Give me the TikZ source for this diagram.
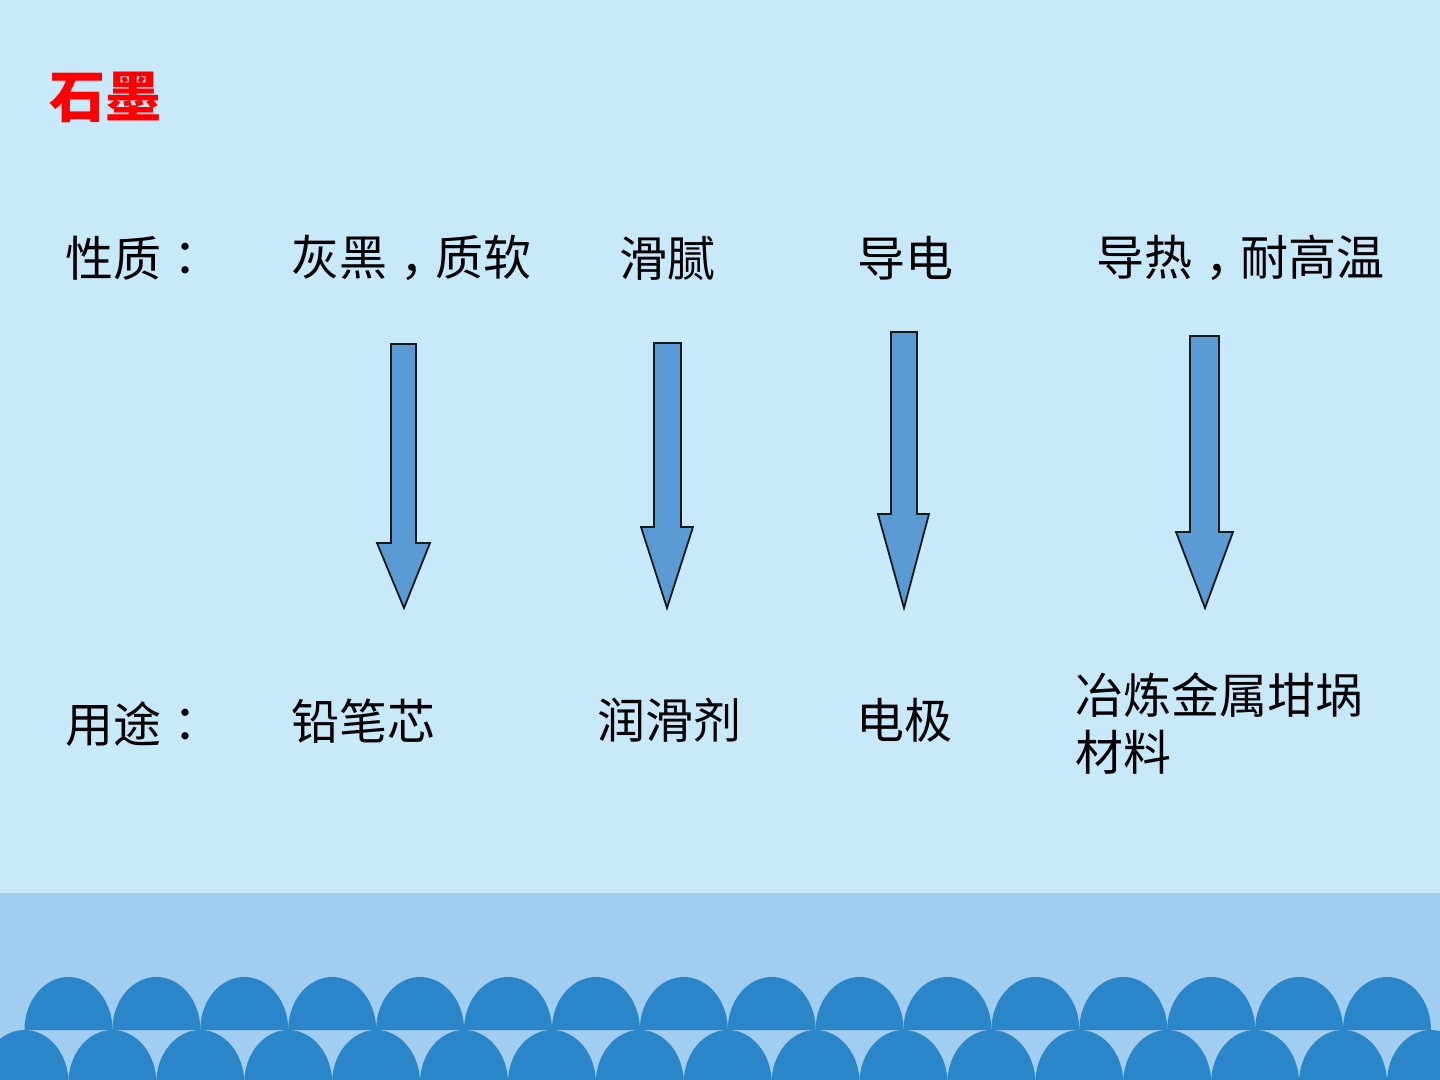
\documentclass[tikz,border=0pt]{standalone}
\usepackage{fontspec}
\newfontfamily\cjk{Noto Sans CJK SC}
\newfontfamily\cjkpunct{Noto Sans CJK TC}
\newcommand\fwcolon{{\cjkpunct ：}}
\newcommand\fwcomma{\makebox[1em][l]{\hspace{0.28em}\rlap{，}}}
\definecolor{bgtop}{RGB}{200,233,250}
\definecolor{band}{RGB}{160,205,240}
\definecolor{scallop}{RGB}{42,134,200}
\definecolor{arrowfill}{RGB}{91,155,213}
\definecolor{titlered}{RGB}{255,0,0}
\begin{document}
\begin{tikzpicture}[x=0.5pt,y=-0.5pt,
  txt/.style={font=\cjk\fontsize{24pt}{28.5pt}\selectfont, anchor=west, inner sep=0pt, text=black},
  titletxt/.style={font=\cjk\bfseries\fontsize{28pt}{33pt}\selectfont, anchor=west, inner sep=0pt, text=titlered},
  blockarrow/.style={fill=arrowfill, draw=black!90, line width=0.9pt, line join=miter},
  bump/.style={fill=scallop}]
\clip (0,0) rectangle (1440,1080);
% background
\fill[bgtop] (0,0) rectangle (1440,893);
\fill[band] (0,893) rectangle (1440,1080);
% scallops
\foreach \k in {0,...,15}
  \fill[bump] ({68.5+87.9*\k-44},1030) arc[start angle=180,end angle=0,x radius=22pt,y radius=26.5pt] -- cycle;
\foreach \k in {0,...,16}
  \fill[bump] ({24.5+87.9*\k-44},1083) arc[start angle=180,end angle=0,x radius=22pt,y radius=26.5pt] -- cycle;
% title
\node[titletxt] (title) at (49,97) {石墨};
% property row
\node[txt] (plabel) at (65,258) {性质\fwcolon};
\node[txt] (p1) at (291,258) {灰黑\fwcomma 质软};
\node[txt] (p2) at (619,258) {滑腻};
\node[txt] (p3) at (857,258) {导电};
\node[txt] (p4) at (1096,258) {导热\fwcomma 耐高温};
% use row
\node[txt] (ulabel) at (65,724) {用途\fwcolon};
\node[txt] (u1) at (291,721) {铅笔芯};
\node[txt] (u2) at (597,720) {润滑剂};
\node[txt] (u3) at (856,720) {电极};
\node[txt, align=left] (u4) at (1075,723.5) {冶炼金属坩埚\\材料};
% block arrows
\draw[blockarrow] (391,344) -- (416,344) -- (416,543) -- (430,543) -- (404,608) -- (377,543) -- (391,543) -- cycle;
\draw[blockarrow] (654,343) -- (681,343) -- (681,527) -- (693,527) -- (667,608) -- (641,527) -- (654,527) -- cycle;
\draw[blockarrow] (891,332) -- (917,332) -- (917,514) -- (929,514) -- (904,608) -- (878,514) -- (891,514) -- cycle;
\draw[blockarrow] (1190,336) -- (1219,336) -- (1219,532) -- (1233,532) -- (1205,608) -- (1176,532) -- (1190,532) -- cycle;
\end{tikzpicture}
\end{document}
